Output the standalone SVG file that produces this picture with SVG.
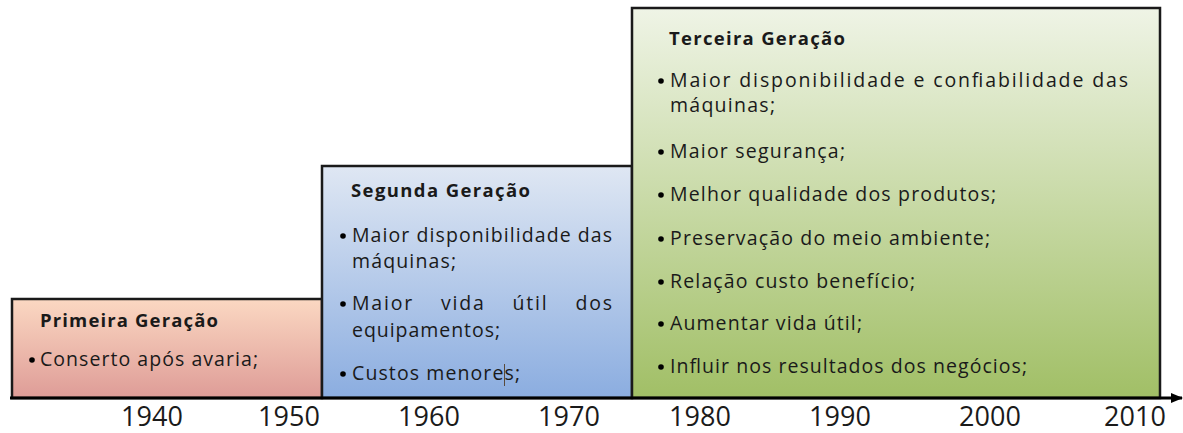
<svg xmlns="http://www.w3.org/2000/svg" width="1183" height="433" viewBox="0 0 1183 433">
<defs>
<linearGradient id="g1" x1="0" y1="0" x2="0" y2="1"><stop offset="0" stop-color="#fbd8c2"/><stop offset="1" stop-color="#de9c97"/></linearGradient>
<linearGradient id="g2" x1="0" y1="0" x2="0" y2="1"><stop offset="0" stop-color="#dfe7f3"/><stop offset="1" stop-color="#8bade0"/></linearGradient>
<linearGradient id="g3" x1="0" y1="0" x2="0" y2="1"><stop offset="0" stop-color="#eff4e6"/><stop offset="1" stop-color="#a1bf66"/></linearGradient>
<marker id="arr" markerWidth="12" markerHeight="10" refX="11" refY="5" orient="auto" markerUnits="userSpaceOnUse"><path d="M0,0 L12,5 L0,10 Z" fill="#000"/></marker>
</defs>
<style>
.box{stroke:#1a1a1a;stroke-width:2.5}
.t{font-family:"Open Sans",Lato,sans-serif;font-size:18.5px;font-weight:bold;fill:#1a1a1a}
.b{font-family:"Open Sans",Lato,sans-serif;font-size:19.5px;fill:#1a1a1a}
.y{font-family:"Open Sans",Lato,sans-serif;font-size:27px;fill:#1a1a1a}
.dot{fill:#000}
</style>
<g id="primeira">
<rect class="box" x="12" y="299" width="310" height="99" fill="url(#g1)"/>
<text class="t" x="40" y="327" textLength="178" lengthAdjust="spacing">Primeira Geração</text>
<circle class="dot" cx="32" cy="360" r="2.8"/>
<text class="b" x="40" y="366" textLength="218" lengthAdjust="spacing">Conserto após avaria;</text>
</g>
<g id="segunda">
<rect class="box" x="322" y="166" width="310" height="232" fill="url(#g2)"/>
<text class="t" x="351" y="197" textLength="179" lengthAdjust="spacing">Segunda Geração</text>
<circle class="dot" cx="343" cy="236" r="2.8"/>
<text class="b" x="352" y="242" textLength="260" lengthAdjust="spacing">Maior disponibilidade das</text>
<text class="b" x="352" y="268" textLength="104" lengthAdjust="spacing">máquinas;</text>
<circle class="dot" cx="343" cy="304" r="2.8"/>
<text class="b" x="352" y="310" textLength="260" lengthAdjust="spacing" word-spacing="20">Maior vida útil dos</text>
<text class="b" x="352" y="337" textLength="148" lengthAdjust="spacing">equipamentos;</text>
<circle class="dot" cx="343" cy="374" r="2.8"/>
<text class="b" x="352" y="380" textLength="168" lengthAdjust="spacing">Custos menores;</text>
<line x1="504.5" y1="364" x2="504.5" y2="386" stroke="#5a4a3a" stroke-width="1"/>
</g>
<g id="terceira">
<rect class="box" x="632" y="8" width="528" height="390" fill="url(#g3)"/>
<text class="t" x="669" y="45" textLength="176" lengthAdjust="spacing">Terceira Geração</text>
<circle class="dot" cx="661" cy="81" r="2.8"/>
<text class="b" x="670" y="87" textLength="458" lengthAdjust="spacing">Maior disponibilidade e confiabilidade das</text>
<text class="b" x="670" y="112" textLength="105" lengthAdjust="spacing">máquinas;</text>
<circle class="dot" cx="661" cy="152" r="2.8"/>
<text class="b" x="670" y="158" textLength="175" lengthAdjust="spacing">Maior segurança;</text>
<circle class="dot" cx="661" cy="195" r="2.8"/>
<text class="b" x="670" y="201" textLength="326" lengthAdjust="spacing">Melhor qualidade dos produtos;</text>
<circle class="dot" cx="661" cy="239" r="2.8"/>
<text class="b" x="670" y="245" textLength="320" lengthAdjust="spacing">Preservação do meio ambiente;</text>
<circle class="dot" cx="661" cy="282" r="2.8"/>
<text class="b" x="670" y="288" textLength="245" lengthAdjust="spacing">Relação custo benefício;</text>
<circle class="dot" cx="661" cy="324" r="2.8"/>
<text class="b" x="670" y="330" textLength="192" lengthAdjust="spacing">Aumentar vida útil;</text>
<circle class="dot" cx="661" cy="367" r="2.8"/>
<text class="b" x="670" y="373" textLength="357" lengthAdjust="spacing">Influir nos resultados dos negócios;</text>
</g>
<g id="connectors">
<line x1="10" y1="398" x2="1182" y2="398" stroke="#000" stroke-width="3" marker-end="url(#arr)"/>
</g>
<g id="axis-labels">
<text class="y" x="152" y="426" text-anchor="middle">1940</text>
<text class="y" x="289" y="426" text-anchor="middle">1950</text>
<text class="y" x="429" y="426" text-anchor="middle">1960</text>
<text class="y" x="569" y="426" text-anchor="middle">1970</text>
<text class="y" x="700" y="426" text-anchor="middle">1980</text>
<text class="y" x="840" y="426" text-anchor="middle">1990</text>
<text class="y" x="990" y="426" text-anchor="middle">2000</text>
<text class="y" x="1135" y="426" text-anchor="middle">2010</text>
</g>
</svg>
